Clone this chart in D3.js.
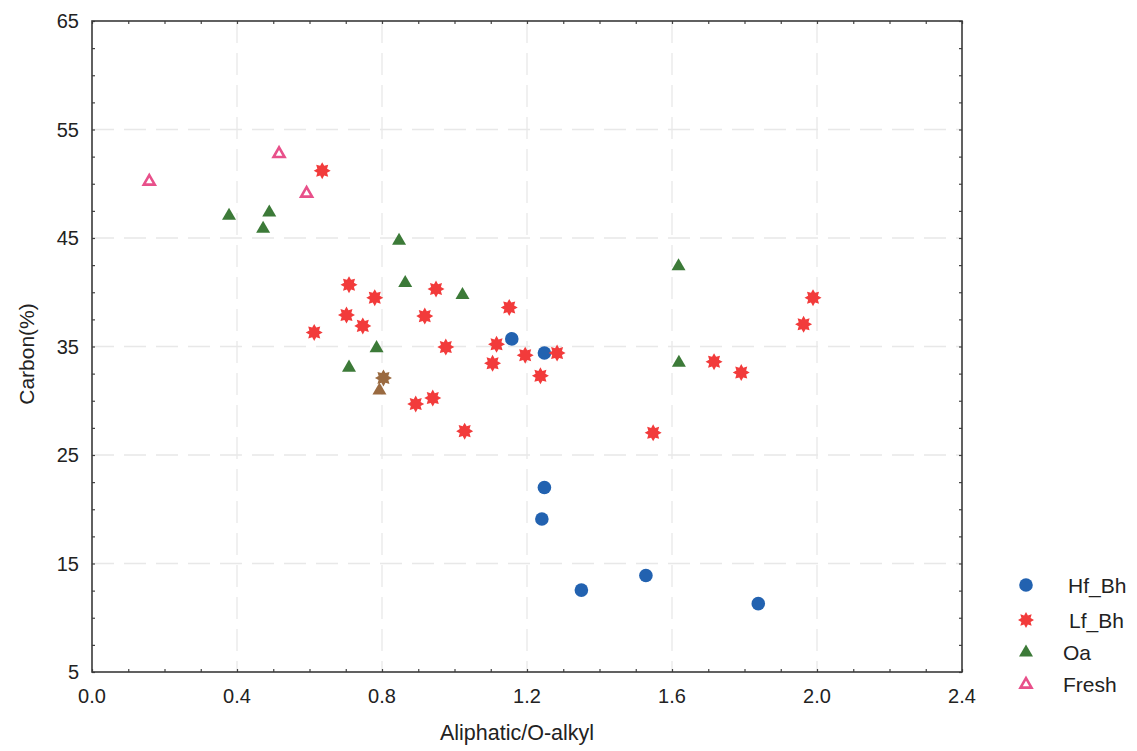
<!DOCTYPE html>
<html>
<head>
<meta charset="utf-8">
<script src="https://cdn.jsdelivr.net/npm/d3@7"></script>
<style>
  html, body { margin: 0; padding: 0; background: #fff; }
  svg { display: block; font-family: Arial, "Liberation Sans", sans-serif; }
</style>
</head>
<body>
<svg id="chart" width="1137" height="751"></svg>
<script>
// Aliphatic/O-alkyl ratio (x) against carbon content (y) for each horizon.
const hfBh = [
  [1.158, 35.7], [1.248, 34.4], [1.248, 22.0], [1.241, 19.1],
  [1.350, 12.55], [1.528, 13.9], [1.838, 11.3]
];
const lfBh = [
  [0.709, 40.7], [0.780, 39.5], [0.949, 40.3], [0.702, 37.9], [0.747, 36.9],
  [0.613, 36.3], [0.918, 37.8], [1.151, 38.6], [0.976, 34.95], [1.116, 35.2],
  [1.105, 33.45], [1.195, 34.2], [0.940, 30.25], [0.893, 29.7], [1.028, 27.2],
  [1.283, 34.4], [1.237, 32.3], [0.635, 51.2], [1.716, 33.6], [1.791, 32.6],
  [1.989, 39.5], [1.963, 37.05], [1.548, 27.05]
];
const oa = [
  [0.378, 47.1], [0.489, 47.4], [0.472, 45.9], [0.847, 44.8], [0.864, 40.9],
  [1.022, 39.8], [0.785, 34.9], [0.709, 33.1], [1.618, 42.45], [1.619, 33.55]
];
const fresh = [
  [0.158, 50.25], [0.516, 52.8], [0.592, 49.15]
];
// Overlapping Oa / Lf_Bh samples printed in a shaded tone
const oaShaded = [[0.793, 31.0]];
const lfShaded = [[0.804, 32.1]];

const xTicks = [0.0, 0.4, 0.8, 1.2, 1.6, 2.0, 2.4];
const yTicks = [5, 15, 25, 35, 45, 55, 65];
const legendNames = ["Hf_Bh", "Lf_Bh", "Oa", "Fresh"];

const svg = d3.select("#chart");
const plotLeft = 92, plotRight = 962, plotTop = 21, plotBottom = 672;

const x = d3.scaleLinear().domain([0, 2.4]).range([plotLeft, plotRight]);
const y = d3.scaleLinear().domain([5, 65]).range([plotBottom, plotTop]);

const colors = {
  hf: "#2262b0", lf: "#f23b3b", oa: "#3c7a38", fresh: "#e8508a", shaded: "#9a6a40"
};

// faint dashed grid lines at labelled ticks
const grid = svg.append("g").attr("stroke", "#e8e8e8").attr("stroke-width", 1.3)
  .attr("stroke-dasharray", "22,10");
xTicks.slice(1, -1).forEach(v => {
  grid.append("line").attr("x1", x(v)).attr("x2", x(v)).attr("y1", plotTop).attr("y2", plotBottom);
});
yTicks.slice(1, -1).forEach(v => {
  grid.append("line").attr("x1", plotLeft).attr("x2", plotRight).attr("y1", y(v)).attr("y2", y(v));
});

// frame with inward ticks on all four sides
const xMinor = d3.range(0, 2.401, 0.1);
const yMinor = d3.range(5, 65.01, 2.5);
const axisStyle = g => {
  g.select(".domain").remove();
  g.selectAll(".tick line").attr("stroke", "#444").attr("stroke-width", 1.2);
  g.selectAll("text").remove();
};
svg.append("g").attr("transform", `translate(0,${plotBottom})`)
  .call(d3.axisBottom(x).tickValues(xMinor).tickSizeInner(-3).tickSizeOuter(0)).call(axisStyle);
svg.append("g").attr("transform", `translate(0,${plotTop})`)
  .call(d3.axisTop(x).tickValues(xMinor).tickSizeInner(-3).tickSizeOuter(0)).call(axisStyle);
svg.append("g").attr("transform", `translate(${plotLeft},0)`)
  .call(d3.axisLeft(y).tickValues(yMinor).tickSizeInner(-3).tickSizeOuter(0)).call(axisStyle);
svg.append("g").attr("transform", `translate(${plotRight},0)`)
  .call(d3.axisRight(y).tickValues(yMinor).tickSizeInner(-3).tickSizeOuter(0)).call(axisStyle);

svg.append("rect").attr("x", plotLeft).attr("y", plotTop)
  .attr("width", plotRight - plotLeft).attr("height", plotBottom - plotTop)
  .attr("fill", "none").attr("stroke", "#3a3a3a").attr("stroke-width", 1.6);

// tick labels
svg.append("g").selectAll("text").data(xTicks).join("text")
  .attr("x", d => x(d)).attr("y", 703)
  .attr("text-anchor", "middle").attr("font-size", 20).attr("fill", "#222")
  .text(d => d3.format(".1f")(d));
svg.append("g").selectAll("text").data(yTicks).join("text")
  .attr("x", 79).attr("y", d => y(d) + 7)
  .attr("text-anchor", "end").attr("font-size", 20).attr("fill", "#222")
  .text(d => d);

// axis titles
svg.append("text").attr("x", 517).attr("y", 740).attr("text-anchor", "middle")
  .attr("font-size", 21.5).attr("fill", "#222").text("Aliphatic/O-alkyl");
svg.append("text").attr("transform", "translate(34,354) rotate(-90)")
  .attr("text-anchor", "middle").attr("font-size", 21).attr("fill", "#222").text("Carbon(%)");

// marker shapes
function starPath(r) {
  const pts = [];
  for (let i = 0; i < 16; i++) {
    const a = i * Math.PI / 8 - Math.PI / 2;
    const rr = i % 2 === 0 ? r : r * 0.62;
    pts.push([rr * Math.cos(a), rr * Math.sin(a)]);
  }
  return "M" + pts.map(p => p.join(",")).join("L") + "Z";
}
function triPath(s) {
  const h = s * Math.sqrt(3) / 2;
  return `M0,${-h * 0.62}L${s / 2},${h * 0.38}L${-s / 2},${h * 0.38}Z`;
}

const marks = svg.append("g");
const drawCircles = (data, color) => marks.append("g").selectAll("circle").data(data).join("circle")
  .attr("cx", d => x(d[0])).attr("cy", d => y(d[1])).attr("r", 6.8).attr("fill", color);
const drawStars = (data, color) => marks.append("g").selectAll("path").data(data).join("path")
  .attr("transform", d => `translate(${x(d[0])},${y(d[1])})`)
  .attr("d", starPath(8.5)).attr("fill", color);
const drawTris = (data, color) => marks.append("g").selectAll("path").data(data).join("path")
  .attr("transform", d => `translate(${x(d[0])},${y(d[1])})`)
  .attr("d", triPath(14)).attr("fill", color);
const drawOpenTris = (data, color) => marks.append("g").selectAll("path").data(data).join("path")
  .attr("transform", d => `translate(${x(d[0])},${y(d[1])})`)
  .attr("d", triPath(11)).attr("fill", "none").attr("stroke", color).attr("stroke-width", 2.6);

drawTris(oa, colors.oa);
drawTris(oaShaded, colors.shaded);
drawOpenTris(fresh, colors.fresh);
drawCircles(hfBh, colors.hf);
drawStars(lfBh, colors.lf);
drawStars(lfShaded, colors.shaded);

// legend
const legend = svg.append("g");
const ly = [585, 620, 652, 684];
const lx = [1068, 1069, 1063, 1063];
legendNames.forEach((name, i) => {
  const g = legend.append("g").attr("transform", `translate(1026,${ly[i]})`);
  if (i === 0) g.append("circle").attr("r", 6.8).attr("fill", colors.hf);
  if (i === 1) g.append("path").attr("d", starPath(8)).attr("fill", colors.lf);
  if (i === 2) g.append("path").attr("d", triPath(14)).attr("fill", colors.oa);
  if (i === 3) g.append("path").attr("d", triPath(11)).attr("fill", "none")
    .attr("stroke", colors.fresh).attr("stroke-width", 2.6);
  legend.append("text").attr("x", lx[i]).attr("y", ly[i] + 7.5)
    .attr("font-size", 21).attr("fill", "#222").text(name);
});
</script>
</body>
</html>
